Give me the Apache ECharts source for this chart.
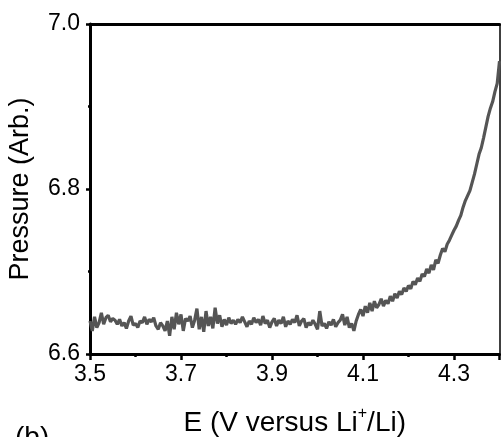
<!DOCTYPE html>
<html>
<head>
<meta charset="utf-8">
<script src="https://cdn.jsdelivr.net/npm/echarts@6/dist/echarts.min.js"></script>
<style>
  html, body { margin: 0; padding: 0; background: #fff; }
  #main { width: 501px; height: 437px; }
</style>
</head>
<body>
<div id="main"></div>
<script>
// potential sweep, one reading every 5 mV starting at 3.5 V
var eStart = 3.5;
var eStep = 0.005;
var pressure = [
  6.640, 6.628, 6.645, 6.632, 6.638, 6.650, 6.636, 6.644, 6.647, 6.639,
  6.643, 6.641, 6.636, 6.642, 6.634, 6.638, 6.631, 6.640, 6.646, 6.635,
  6.637, 6.632, 6.640, 6.638, 6.645, 6.636, 6.642, 6.639, 6.644, 6.634,
  6.630, 6.638, 6.634, 6.628, 6.640, 6.622, 6.645, 6.630, 6.650, 6.636,
  6.648, 6.628, 6.643, 6.640, 6.646, 6.632, 6.641, 6.655, 6.630, 6.645,
  6.627, 6.652, 6.634, 6.645, 6.631, 6.656, 6.637, 6.647, 6.633, 6.642,
  6.635, 6.644, 6.637, 6.641, 6.636, 6.642, 6.638, 6.645, 6.639, 6.633,
  6.640, 6.636, 6.644, 6.638, 6.642, 6.635, 6.646, 6.637, 6.641, 6.632,
  6.639, 6.643, 6.634, 6.641, 6.637, 6.645, 6.633, 6.640, 6.636, 6.642,
  6.638, 6.647, 6.634, 6.640, 6.643, 6.632, 6.638, 6.635, 6.641, 6.636,
  6.630, 6.652, 6.634, 6.637, 6.631, 6.639, 6.635, 6.642, 6.633, 6.638,
  6.641, 6.648, 6.635, 6.645, 6.632, 6.637, 6.628, 6.640, 6.648, 6.654,
  6.646, 6.658, 6.650, 6.662, 6.652, 6.664, 6.656, 6.660, 6.667, 6.658,
  6.665, 6.661, 6.670, 6.664, 6.673, 6.668, 6.676, 6.672, 6.680, 6.676,
  6.683, 6.679, 6.688, 6.684, 6.692, 6.688, 6.697, 6.694, 6.703, 6.698,
  6.708, 6.702, 6.714, 6.710, 6.720, 6.728, 6.724, 6.733, 6.738, 6.744,
  6.750, 6.755, 6.762, 6.768, 6.778, 6.786, 6.792, 6.798, 6.808, 6.818,
  6.830, 6.842, 6.850, 6.862, 6.875, 6.888, 6.898, 6.906, 6.918, 6.928,
  6.955
];

var chart = echarts.init(document.getElementById('main'));
var font = 'Liberation Sans, Arial, sans-serif';

var seriesData = pressure.map(function (p, i) {
  return [+(eStart + i * eStep).toFixed(3), p];
});

var option = {
  animation: false,
  backgroundColor: '#fff',
  grid: { left: 90, right: 1.5, top: 24, bottom: 83, containLabel: false, outerBoundsMode: 'none' },
  xAxis: [{
    type: 'value',
    min: 3.5,
    max: 4.4,
    interval: 0.2,
    name: 'E (V versus Li{sup|+}/Li)',
    nameLocation: 'middle',
    nameGap: 52,
    nameTextStyle: {
      fontFamily: font, fontSize: 28, color: '#000',
      rich: { sup: { fontFamily: font, fontSize: 16, color: '#000', verticalAlign: 'top', padding: [0, 0, 18, 0] } }
    },
    axisLine: { lineStyle: { color: '#000', width: 3 } },
    axisTick: { inside: false, length: 6, lineStyle: { color: '#000', width: 2.5 } },
    minorTick: { show: true, splitNumber: 2, length: 3, lineStyle: { color: '#000', width: 2.5 } },
    splitLine: { show: false },
    axisLabel: {
      showMaxLabel: false, margin: 9,
      fontFamily: font, fontSize: 23, color: '#000',
      formatter: function (v) { return v.toFixed(1); }
    }
  }, {
    type: 'value', position: 'top', min: 3.5, max: 4.4,
    axisLine: { show: true, lineStyle: { color: '#000', width: 3 } },
    axisTick: { show: false }, axisLabel: { show: false }, splitLine: { show: false }
  }],
  yAxis: [{
    type: 'value',
    min: 6.6,
    max: 7.0,
    interval: 0.2,
    name: 'Pressure (Arb.)',
    nameLocation: 'middle',
    nameGap: 56,
    nameTextStyle: { fontFamily: font, fontSize: 27, color: '#000' },
    axisLine: { show: true, lineStyle: { color: '#000', width: 3 } },
    axisTick: { inside: false, length: 4, lineStyle: { color: '#000', width: 2.5 } },
    minorTick: { show: true, splitNumber: 2, length: 2, lineStyle: { color: '#000', width: 2.5 } },
    splitLine: { show: false },
    axisLabel: {
      margin: 10, fontFamily: font, fontSize: 23, color: '#000',
      formatter: function (v) { return v.toFixed(1); }
    }
  }, {
    type: 'value', position: 'right', min: 6.6, max: 7.0,
    axisLine: { show: true, lineStyle: { color: '#000', width: 1.5 } },
    axisTick: { show: false }, axisLabel: { show: false }, splitLine: { show: false }
  }],
  graphic: [{
    type: 'text', left: 15, top: 424,
    style: { text: '(b)', font: '28px ' + font, fill: '#000' }
  }],
  series: [{
    type: 'line',
    data: seriesData,
    showSymbol: false,
    clip: true,
    lineStyle: { color: '#555', width: 3.2 }
  }]
};

chart.setOption(option);
</script>
</body>
</html>
